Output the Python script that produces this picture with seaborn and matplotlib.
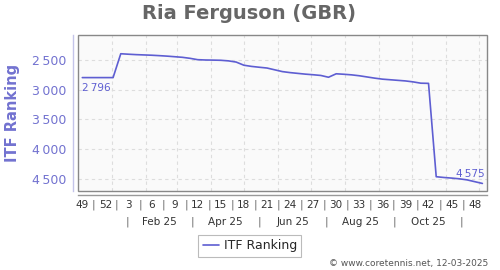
import datetime as dt
import numpy as np
import pandas as pd
import matplotlib
matplotlib.use("Agg")
import matplotlib.pyplot as plt
import matplotlib.dates as mdates
from matplotlib.patches import Rectangle
import seaborn as sns

# ---------------- data ----------------
title = "Ria Ferguson (GBR)"
series_name = "ITF Ranking"
first_week = (2024, 49)          # ISO year, week of the first point
itf_ranking = [
    2796, 2796, 2796, 2796, 2796, 2395, 2403, 2410, 2415, 2420,
    2427, 2435, 2445, 2455, 2472, 2495, 2500, 2502, 2505, 2515,
    2535, 2588, 2608, 2622, 2635, 2665, 2695, 2712, 2725, 2738,
    2748, 2760, 2790, 2732, 2740, 2750, 2765, 2785, 2805, 2822,
    2832, 2842, 2852, 2868, 2890, 2893, 4462, 4475, 4485, 4497,
    4515, 4545, 4575,
]
week_tick_labels = [(2024, 49), (2024, 52), (2025, 3), (2025, 6), (2025, 9),
                    (2025, 12), (2025, 15), (2025, 18), (2025, 21), (2025, 24),
                    (2025, 27), (2025, 30), (2025, 33), (2025, 36), (2025, 39),
                    (2025, 42), (2025, 45), (2025, 48)]
month_labels = ["Feb 25", "Apr 25", "Jun 25", "Aug 25", "Oct 25"]
month_label_months = [2, 4, 6, 8, 10]
y_ticks = [2500, 3000, 3500, 4000, 4500]
first_label = "2\u2009796"
last_label = "4\u2009575"
credit = "\u00a9 www.coretennis.net, 12-03-2025"

# ---------------- build table ----------------
def thursday(y, w):
    return pd.Timestamp(dt.date.fromisocalendar(y, w, 4))

start = thursday(*first_week)
dates = [start + pd.Timedelta(days=7 * i) for i in range(len(itf_ranking))]
df = pd.DataFrame({"date": dates, series_name: itf_ranking})

# ---------------- style ----------------
sns.set_style("white")
plt.rcParams["font.family"] = ["DejaVu Sans"]

LINE = "#5e5ed2"
AX_TXT = "#7272d0"

fig = plt.figure(figsize=(5, 2.7), dpi=100)
ax = fig.add_axes([78 / 500, 1 - 190.7 / 270, (487 - 78) / 500, 155.7 / 270])
ax.set_facecolor("#fafafa")

sns.lineplot(data=df, x="date", y=series_name, ax=ax, color=LINE,
             linewidth=1.2, label=series_name, legend=False)

ax.set_xlim(pd.Timestamp("2024-12-01 02:00"), pd.Timestamp("2025-12-08 05:00"))
ax.set_ylim(4697, 2080)

# grid
month_starts = pd.date_range("2025-01-01", "2025-12-01", freq="MS")
for m in month_starts:
    ax.axvline(m, color="#dddddd", lw=0.8, ls=(0, (3, 3)), zorder=0)
for yv in y_ticks:
    ax.axhline(yv, color="#dddddd", lw=0.8, ls=(0, (3, 3)), zorder=0)

# frame
ax.add_patch(Rectangle((0, 0), 1, 1, transform=ax.transAxes, fill=False,
                       edgecolor="#888888", lw=1.0, clip_on=False, zorder=5))
for s in ["top", "right"]:
    ax.spines[s].set_visible(False)
ax.spines["left"].set_position(("outward", 3.6))
ax.spines["left"].set_color("#c4c4ea")
ax.spines["left"].set_linewidth(1.0)
ax.spines["bottom"].set_position(("outward", 3.3))
ax.spines["bottom"].set_color("#999999")
ax.spines["bottom"].set_linewidth(1.0)

# y axis
ax.set_yticks(y_ticks)
ax.set_yticklabels([f"{v:,}".replace(",", "\u2009") for v in y_ticks])
ax.tick_params(axis="y", length=0, pad=4.5, labelsize=9, labelcolor=AX_TXT)
ax.set_ylabel(series_name, color=AX_TXT, fontsize=10.5, fontweight="bold")
ax.yaxis.set_label_coords(-0.142, 0.5)

# x axis: small ticks at month starts, custom label rows
ax.set_xticks(month_starts)
ax.set_xticklabels([])
ax.tick_params(axis="x", direction="in", length=2, color="#cccccc", width=0.8)
ax.set_xlabel("")

tr = ax.get_xaxis_transform()
wk_y = -0.092
wk_dates = [thursday(y, w) for y, w in week_tick_labels]
for (y, w), d in zip(week_tick_labels, wk_dates):
    ax.text(d, wk_y, str(w), transform=tr, ha="center", va="center",
            fontsize=7.5, color="#333333", clip_on=False)
for d0, d1 in zip(wk_dates[:-1], wk_dates[1:]):
    ax.text(d0 + (d1 - d0) / 2, wk_y, "|", transform=tr, ha="center",
            va="center", fontsize=7.5, color="#666666", clip_on=False)

mo_y = -0.202
seps = [pd.Timestamp(2025, m - 1, 15) for m in month_label_months] + \
       [pd.Timestamp(2025, month_label_months[-1] + 1, 15)]
for s in seps:
    ax.text(s, mo_y, "|", transform=tr, ha="center", va="center",
            fontsize=7.5, color="#666666", clip_on=False)
for lab, a, b in zip(month_labels, seps[:-1], seps[1:]):
    ax.text(a + (b - a) / 2, mo_y, lab, transform=tr, ha="center",
            va="center", fontsize=7.5, color="#333333", clip_on=False)

# point labels
ax.annotate(first_label, (df["date"].iloc[0], itf_ranking[0]),
            xytext=(0, -4), textcoords="offset points", ha="left", va="top",
            fontsize=7.5, color=LINE)
ax.annotate(last_label, (df["date"].iloc[-1], itf_ranking[-1]),
            xytext=(1.5, 3.5), textcoords="offset points", ha="right",
            va="bottom", fontsize=7.5, color=LINE)

# title, legend, credit
fig.text(0.498, 1 - 13.5 / 270, title, ha="center", va="center",
         fontsize=14, fontweight="bold", color="#666666")
leg = fig.legend(handles=ax.get_lines()[:1], labels=[series_name],
                 loc="center", bbox_to_anchor=(0.4995, 1 - 246 / 270),
                 fontsize=9, frameon=True, fancybox=False, handlelength=1.3,
                 handletextpad=0.4, borderpad=0.35, borderaxespad=0)
leg.get_frame().set_edgecolor("#aaaaaa")
leg.get_frame().set_linewidth(0.8)
fig.text(488 / 500, 1 - 263.5 / 270, credit, ha="right", va="center",
         fontsize=6.5, color="#555555")

fig.savefig("out.png", dpi=100)
